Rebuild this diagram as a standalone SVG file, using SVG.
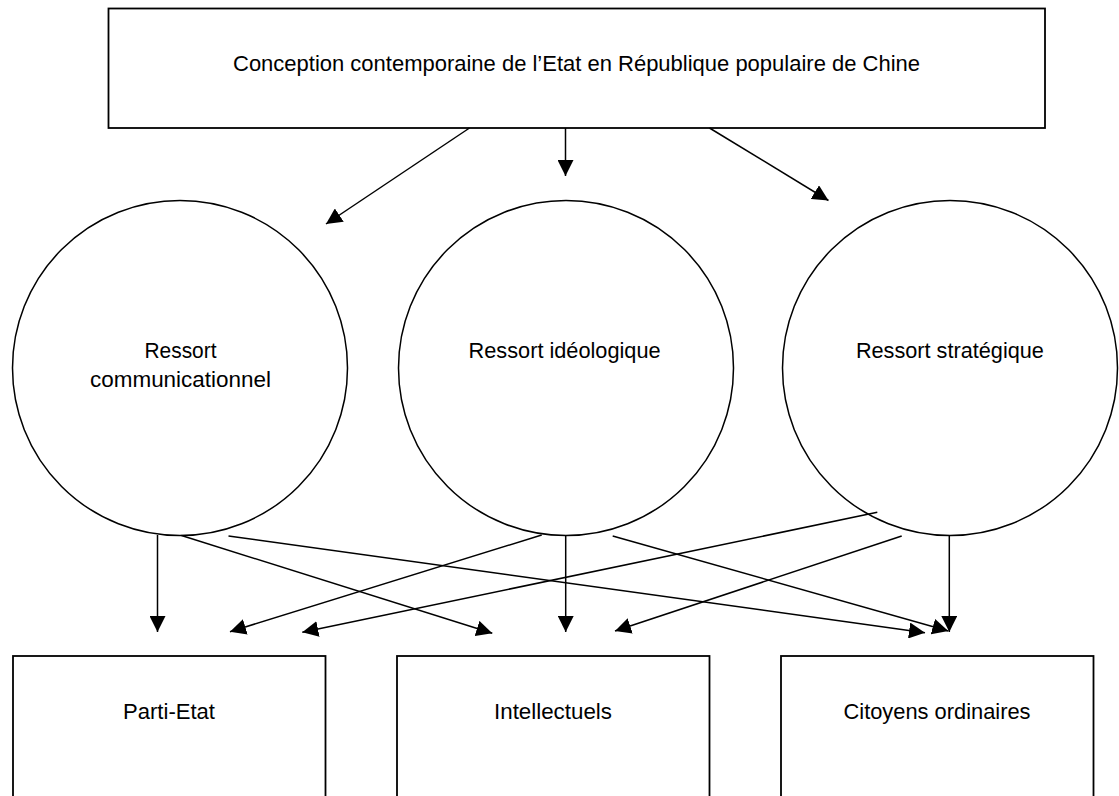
<svg xmlns="http://www.w3.org/2000/svg" width="1119" height="796" viewBox="0 0 1119 796">
<style>
.box{fill:#fff;stroke:#000;stroke-width:1.8}
.circ{fill:#fff;stroke:#000;stroke-width:1.5}
.lbl{font-family:"Liberation Sans",Arial,sans-serif;font-size:22px;fill:#000;text-anchor:middle}
.conn{stroke:#000;stroke-width:1.5;fill:none;marker-end:url(#arr)}
</style>
<defs>
<marker id="arr" markerUnits="userSpaceOnUse" markerWidth="16" markerHeight="16" viewBox="0 0 15 15" refX="15" refY="7.5" orient="auto">
<path d="M0,0 L15,7.5 L0,15 z" fill="#000"/>
</marker>
</defs>
<rect width="1119" height="796" fill="#fff"/>
<g id="node-top">
<rect class="box" x="108.5" y="8.5" width="936.5" height="119.5"/>
<text class="lbl" x="576.5" y="71" textLength="687" lengthAdjust="spacingAndGlyphs">Conception contemporaine de l’Etat en République populaire de Chine</text>
</g>
<g id="node-comm">
<circle class="circ" cx="180" cy="368" r="167.5"/>
<text class="lbl" x="180.5" y="357.7" textLength="72" lengthAdjust="spacingAndGlyphs">Ressort</text>
<text class="lbl" x="180.5" y="387.3" textLength="181" lengthAdjust="spacingAndGlyphs">communicationnel</text>
</g>
<g id="node-ideo">
<circle class="circ" cx="566" cy="368" r="167.5"/>
<text class="lbl" x="564.6" y="357.7" textLength="192" lengthAdjust="spacingAndGlyphs">Ressort idéologique</text>
</g>
<g id="node-strat">
<circle class="circ" cx="950" cy="368" r="167.5"/>
<text class="lbl" x="949.9" y="357.7" textLength="188" lengthAdjust="spacingAndGlyphs">Ressort stratégique</text>
</g>
<g id="node-parti">
<rect class="box" x="13" y="656" width="312.5" height="160"/>
<text class="lbl" x="169" y="719" textLength="92" lengthAdjust="spacingAndGlyphs">Parti-Etat</text>
</g>
<g id="node-intel">
<rect class="box" x="397" y="656" width="312.5" height="160"/>
<text class="lbl" x="553" y="719" textLength="118" lengthAdjust="spacingAndGlyphs">Intellectuels</text>
</g>
<g id="node-citoy">
<rect class="box" x="781" y="656" width="312.5" height="160"/>
<text class="lbl" x="937" y="719" textLength="187" lengthAdjust="spacingAndGlyphs">Citoyens ordinaires</text>
</g>
<g id="connectors">
<line class="conn" x1="469.5" y1="128" x2="326" y2="224"/>
<line class="conn" x1="565.5" y1="128" x2="565.5" y2="176"/>
<line class="conn" x1="709.5" y1="128" x2="828.5" y2="200.5"/>
<line class="conn" x1="157.5" y1="535" x2="157.5" y2="632"/>
<line class="conn" x1="181.5" y1="535.5" x2="492.3" y2="633.3"/>
<line class="conn" x1="228.5" y1="536" x2="925" y2="632.7"/>
<line class="conn" x1="541.7" y1="535" x2="230" y2="631.7"/>
<line class="conn" x1="565.7" y1="536" x2="565.7" y2="632"/>
<line class="conn" x1="612.7" y1="536" x2="948.3" y2="631"/>
<line class="conn" x1="877.3" y1="512.3" x2="302.3" y2="632.3"/>
<line class="conn" x1="901.7" y1="536" x2="615" y2="631"/>
<line class="conn" x1="949.3" y1="536" x2="949.3" y2="632"/>
</g>
</svg>
